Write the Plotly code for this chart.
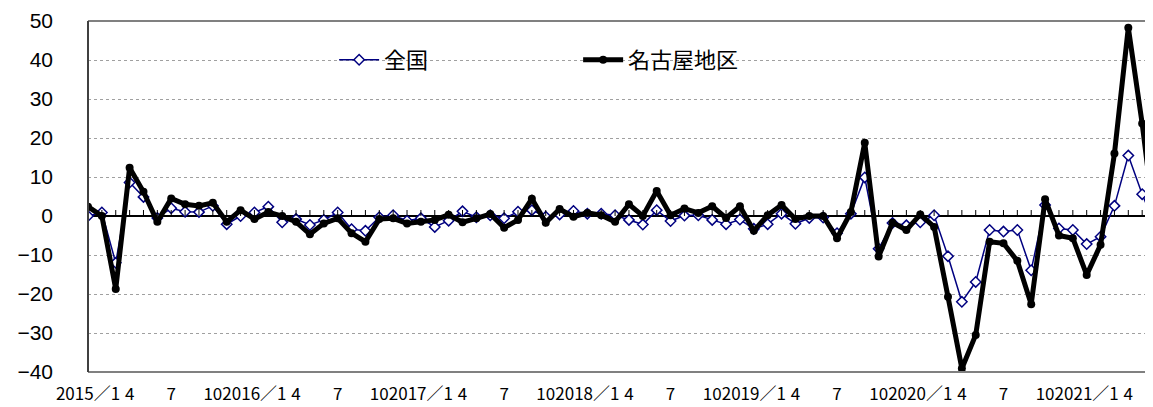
import plotly.graph_objects as go

# Monthly categories: 2015/1 .. 2021/6 (index 0 .. 77)
months = [f"{y}/{m}" for y in range(2015, 2022) for m in range(1, 13)][:78]

national = [0, 0.9, -12, 8.6, 4.9, -0.5, 2.0, 1.1, 1.0, 2.6, -2.1, 0,
            0.9, 2.4, -1.6, -0.8, -2.3, -1.0, 0.9, -3.4, -3.8, -0.3, 0.2, -1.2,
            -0.6, -2.8, -1.2, 1.2, -0.3, 0.2, -0.6, 1.1, 1.5, -0.2, 0.4, 1.3,
            0.6, 0.6, 0.2, -1.0, -2.2, 1.5, -1.3, 0.1, 0.2, -1.0, -2.1, -0.9,
            -3.3, -2.1, 0.6, -2.0, -0.5, -0.4, -4.4, 0.6, 9.9, -8.4, -1.8, -2.4,
            -1.6, 0.2, -10.3, -22.0, -16.9, -3.6, -4.0, -3.6, -13.9, 2.8, -3.2, -3.6,
            -7.2, -5.3, 2.6, 15.5, 5.6, -3.0]

nagoya = [2.4, 0, -18.7, 12.4, 6.2, -1.5, 4.5, 3.0, 2.6, 3.4, -1.5, 1.5,
          -0.8, 1.0, 0, -1.5, -4.7, -1.9, -0.6, -4.4, -6.6, -0.8, -0.6, -1.9,
          -1.5, -1.0, 0.3, -1.6, -0.6, 0.5, -3.0, -1.0, 4.4, -1.7, 1.8, -0.2,
          0.8, 0.2, -1.5, 3.0, 0, 6.4, 0.2, 1.9, 0.8, 2.5, -0.5, 2.5,
          -3.8, 0.2, 2.8, -0.8, 0, 0, -5.7, 1.0, 18.8, -10.4, -1.7, -3.6,
          0.4, -2.8, -20.7, -39.1, -30.5, -6.6, -7.0, -11.5, -22.6, 4.3, -5.0, -5.7,
          -15.1, -7.4, 16.0, 48.3, 23.7, -5.0]

tick_idx = list(range(0, 76, 3))
tick_text = ["2015／1", "4", "7", "10",
             "2016／1", "4", "7", "10",
             "2017／1", "4", "7", "10",
             "2018／1", "4", "7", "10",
             "2019／1", "4", "7", "10",
             "2020／1", "4", "7", "10",
             "2021／1", "4"]

x = list(range(len(months)))

fig = go.Figure()
fig.add_trace(go.Scatter(
    x=x, y=national, name="全国", mode="lines+markers",
    line=dict(color="#000080", width=1.5),
    marker=dict(symbol="diamond", size=8, color="white",
                line=dict(color="#000080", width=1.5)),
))
fig.add_trace(go.Scatter(
    x=x, y=nagoya, name="名古屋地区", mode="lines+markers",
    line=dict(color="black", width=5),
    marker=dict(symbol="circle", size=8, color="black"),
))

shapes = []
# small upward tick marks on the zero line, one per month
for i in range(1, len(months)):
    shapes.append(dict(type="line", xref="x", yref="y", ysizemode="pixel",
                       yanchor=0, x0=i, x1=i, y0=0, y1=6,
                       line=dict(color="black", width=1)))
# plot area border (top/bottom) and value axis
shapes.append(dict(type="line", xref="paper", yref="paper", x0=0, x1=1, y0=1, y1=1,
                   line=dict(color="#808080", width=2)))
shapes.append(dict(type="line", xref="paper", yref="paper", x0=0, x1=1, y0=0, y1=0,
                   line=dict(color="#808080", width=2)))
shapes.append(dict(type="line", xref="paper", yref="paper", x0=0, x1=0, y0=0, y1=1,
                   line=dict(color="#404040", width=2)))

# page body has an 8px default margin; figure size and margins compensate for it
fig.update_layout(
    width=1145, height=399,
    margin=dict(l=80, r=0, t=13, b=35, autoexpand=False),
    paper_bgcolor="white", plot_bgcolor="white",
    showlegend=True,
    legend=dict(orientation="h", x=0.2311, y=0.889, xanchor="left", yanchor="middle",
                bgcolor="rgba(0,0,0,0)", entrywidth=189, entrywidthmode="pixels",
                font=dict(family="Noto Sans CJK JP", size=22, color="black"),
                itemwidth=40),
    shapes=shapes,
    xaxis=dict(range=[0, 76.78], tickmode="array", tickvals=tick_idx, ticktext=tick_text,
               tickangle=0, automargin=False,
               showgrid=False, zeroline=False, showline=False, ticks="",
               ticklabelstandoff=10,
               tickfont=dict(family="Noto Sans CJK JP", size=17, color="black")),
    yaxis=dict(range=[-40, 50], dtick=10, tick0=0, showgrid=True, automargin=False,
               gridcolor="#a0a0a0", griddash="dot", gridwidth=1,
               zeroline=True, zerolinecolor="black", zerolinewidth=1.5,
               showline=False, ticks="", ticklabelstandoff=34,
               tickfont=dict(family="Liberation Sans", size=21, color="black")),
)

fig.write_html("out.html")
